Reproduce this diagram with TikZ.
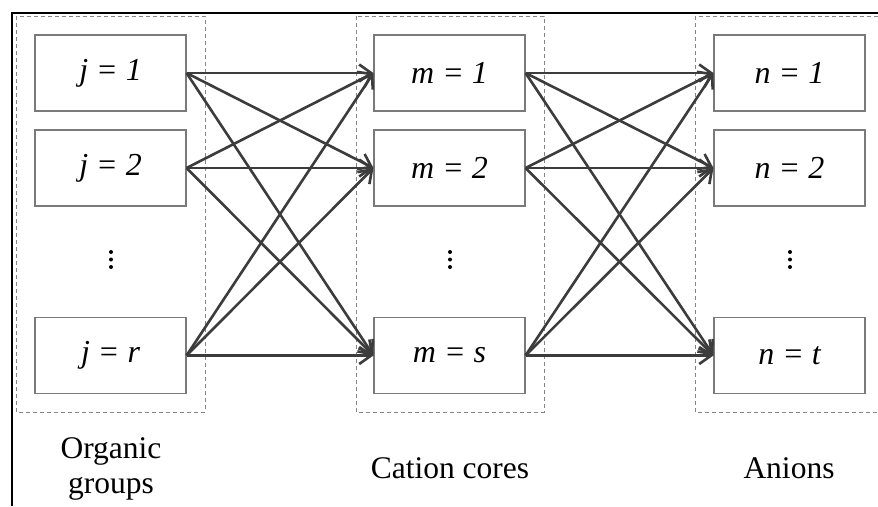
\documentclass[tikz,border=0pt]{standalone}
\usepackage{fontspec}
\setmainfont{Liberation Serif}
\usetikzlibrary{arrows.meta}
\definecolor{boxgray}{HTML}{7A7A7A}
\definecolor{dashgray}{HTML}{858585}
\definecolor{linkgray}{HTML}{3C3C3C}
\begin{document}
\begin{tikzpicture}[x=1pt,y=-1pt,
  cell/.style={draw=boxgray,line width=1.1pt,minimum width=151pt,minimum height=76pt,inner sep=0pt,font=\fontsize{32}{36}\selectfont\itshape},
  grp/.style={draw=dashgray,line width=0.9pt,dash pattern=on 4pt off 3pt},
  link/.style={draw=linkgray,line width=2.6pt,-{Straight Barb[length=12pt,width=17pt,line width=2.6pt]}},
  lab/.style={font=\fontsize{31.5}{35}\selectfont,align=center,inner sep=0pt},
  dot/.style={fill=black,circle,inner sep=0pt,minimum size=4pt}]
\useasboundingbox (0,0) rectangle (878,506);
\fill[white] (0,0) rectangle (878,506);
% frame
\draw[black,line width=2.2pt] (12,506) -- (12,13) -- (878,13);
% group boxes
\draw[grp] (16,16) rectangle (205,412);
\draw[grp] (356,16) rectangle (544,412);
\draw[grp] (695,16) rectangle (884,412);
% cells
\node[cell] (j1) at (110.5,73) {\raisebox{-1pt}{j = 1}};
\node[cell] (j2) at (110.5,168) {\raisebox{-1pt}{j = 2}};
\node[cell] (jr) at (110.5,355.5) {\raisebox{-1pt}{j = r}};
\node[cell] (m1) at (449.5,73) {\raisebox{-1pt}{m = 1}};
\node[cell] (m2) at (449.5,168) {\raisebox{-1pt}{m = 2}};
\node[cell] (ms) at (449.5,355.5) {\raisebox{-1pt}{m = s}};
\node[cell] (n1) at (789.5,73) {\raisebox{-1pt}{n = 1}};
\node[cell] (n2) at (789.5,168) {\raisebox{-1pt}{n = 2}};
\node[cell] (nt) at (789.5,355.5) {\raisebox{-1pt}{n = t}};
% dots
\foreach \x/\nm in {111/a,450/b,790/c}{
  \node[dot] (\nm1) at (\x,252) {};
  \node[dot] (\nm2) at (\x,259.5) {};
  \node[dot] (\nm3) at (\x,267) {};
}
% links
\foreach \s in {j1,j2,jr}{
  \foreach \t in {m1,m2,ms}{
    \draw[link] (\s.east) -- (\t.west);
  }
}
\foreach \s in {m1,m2,ms}{
  \foreach \t in {n1,n2,nt}{
    \draw[link] (\s.east) -- (\t.west);
  }
}
% labels
\node[lab] (lorg) at (111,469) {Organic\\groups};
\node[lab] (lcat) at (450,468) {Cation cores};
\node[lab] (lan) at (789,468) {Anions};
\end{tikzpicture}
\end{document}
